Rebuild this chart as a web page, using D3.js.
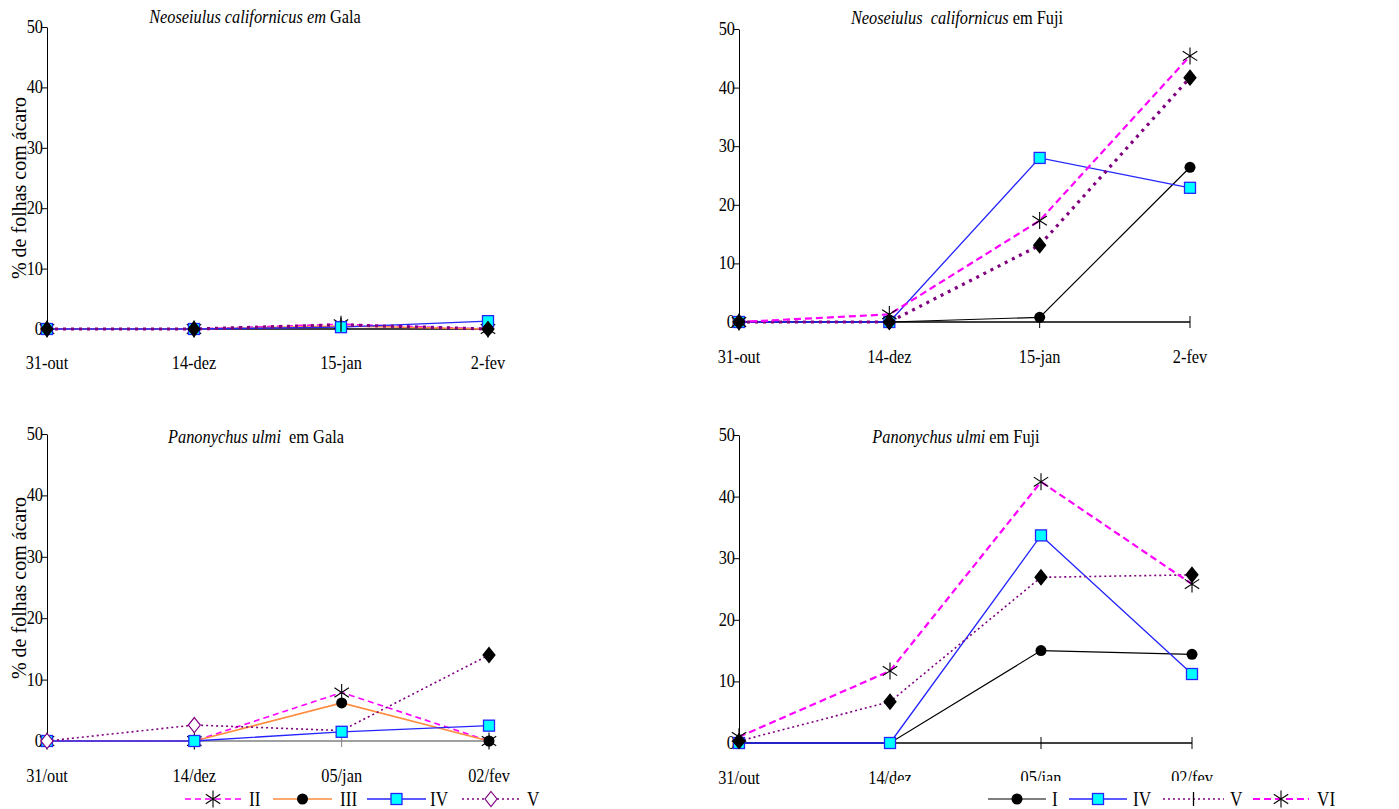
<!DOCTYPE html>
<html>
<head>
<meta charset="utf-8">
<script src="https://cdn.jsdelivr.net/npm/d3@7"></script>
<style>
  body { margin: 0; background: #fff; }
  svg text { font-family: "Liberation Serif", "Times New Roman", serif; fill: #000; }
</style>
</head>
<body>
<div id="chart"></div>
<script>
// categories
const datesNeo = ["31-out", "14-dez", "15-jan", "2-fev"];
const datesPan = ["31/out", "14/dez", "05/jan", "02/fev"];
const yTicks = [0, 10, 20, 30, 40, 50];

// Neoseiulus californicus em Gala
const neoGalaII  = [0, 0, 0.8, 0];
const neoGalaIII = [0, 0, 0.5, 0];
const neoGalaIV  = [0, 0, 0.3, 1.3];
const neoGalaV   = [0, 0, 0.7, 0];

// Neoseiulus californicus em Fuji
const neoFujiI  = [0, 0, 0.8, 26.4];
const neoFujiIV = [0, 0, 28.0, 22.9];
const neoFujiV  = [0, 0, 13.1, 41.7];
const neoFujiVI = [0, 1.3, 17.3, 45.4];

// Panonychus ulmi em Gala
const panGalaII  = [0, 0, 7.9, 0];
const panGalaIII = [0, 0, 6.2, 0];
const panGalaIV  = [0, 0, 1.5, 2.5];
const panGalaV   = [0, 2.6, 1.7, 14.0];

// Panonychus ulmi em Fuji
const panFujiI  = [0, 0, 15.0, 14.4];
const panFujiIV = [0, 0, 33.7, 11.2];
const panFujiV  = [0.3, 6.7, 26.9, 27.3];
const panFujiVI = [1.0, 11.7, 42.4, 25.8];

// line styles
const sty = {
  I:   {stroke: "#000000", width: 1.2, dash: null},
  II:  {stroke: "#ff00ff", width: 1.6, dash: "6,4"},
  III: {stroke: "#ff8c40", width: 1.6, dash: null},
  IV:  {stroke: "#2424ff", width: 1.3, dash: null},
  Vt:  {stroke: "#800080", width: 1.6, dash: "2,3"},
  Vb:  {stroke: "#800080", width: 3.2, dash: "3,5"},
  VI:  {stroke: "#ff00ff", width: 2.2, dash: "7,4"}
};

const SX = 0.86;   // the original text is a bit condensed

const panels = [
  {left: 47, right: 488, top: 27, bottom: 329, cats: datesNeo, labY: 369,
   title: [["Neoseiulus californicus em ", true], ["Gala", false]], titleX: 255, titleY: 23,
   ylabelY: 188, axisColor: "#000", crossTicks: false,
   series: [
     {v: neoGalaII,  s: sty.II,  m: ["asterisk","asterisk","asterisk","asterisk"]},
     {v: neoGalaIII, s: sty.III, m: ["circle","circle","circle","circle"]},
     {v: neoGalaIV,  s: sty.IV,  m: ["square","square","square","square"]},
     {v: neoGalaV,   s: sty.Vb,  m: ["diamond","diamond","tick","diamond"]}
   ]},
  {left: 739, right: 1190, top: 29, bottom: 322, cats: datesNeo, labY: 363,
   title: [["Neoseiulus  californicus", true], [" em Fuji", false]], titleX: 957, titleY: 24,
   ylabelY: null, axisColor: "#000", crossTicks: true,
   series: [
     {v: neoFujiI,  s: sty.I,  m: ["circle","circle","circle","circle"]},
     {v: neoFujiIV, s: sty.IV, m: ["square","square","square","square"]},
     {v: neoFujiV,  s: sty.Vb, m: ["diamond","diamond","diamond","diamond"]},
     {v: neoFujiVI, s: sty.VI, m: ["asterisk","asterisk","asterisk","asterisk"]}
   ]},
  {left: 47, right: 489, top: 434, bottom: 741, cats: datesPan, labY: 782,
   title: [["Panonychus ulmi ", true], [" em Gala", false]], titleX: 256, titleY: 443,
   ylabelY: 588, axisColor: "#808080", crossTicks: true,
   series: [
     {v: panGalaII,  s: sty.II,  m: ["asterisk","asterisk","asterisk","asterisk"]},
     {v: panGalaIII, s: sty.III, m: ["circle","circle","circle","circle"]},
     {v: panGalaIV,  s: sty.IV,  m: ["square","square","square","square"]},
     {v: panGalaV,   s: sty.Vt,  m: ["diamondOpen","diamondOpen","none","diamond"]}
   ]},
  {left: 739, right: 1192, top: 435, bottom: 743, cats: datesPan, labY: 784,
   title: [["Panonychus ulmi", true], [" em Fuji", false]], titleX: 956, titleY: 443,
   ylabelY: null, axisColor: "#000", crossTicks: true,
   series: [
     {v: panFujiI,  s: sty.I,  m: ["circle","circle","circle","circle"]},
     {v: panFujiIV, s: sty.IV, m: ["square","square","square","square"]},
     {v: panFujiV,  s: sty.Vt, m: ["diamond","diamond","diamond","diamond"]},
     {v: panFujiVI, s: sty.VI, m: ["asterisk","asterisk","asterisk","asterisk"]}
   ]}
];

const svg = d3.select("#chart").append("svg")
  .attr("width", 1399).attr("height", 809);

// condensed text helper
function ctext(g, x, y, str, anchor, size) {
  return g.append("text")
    .attr("transform", `translate(${x},${y}) scale(${SX},1)`)
    .attr("text-anchor", anchor).attr("font-size", size).text(str);
}

// draw one marker at x,y
function marker(g, type, x, y) {
  if (type === "circle") {
    g.append("circle").attr("cx", x).attr("cy", y).attr("r", 5.5).attr("fill", "#000");
  } else if (type === "square") {
    g.append("rect").attr("x", x - 5.5).attr("y", y - 5.5).attr("width", 11).attr("height", 11)
      .attr("fill", "#00ffff").attr("stroke", "#2424ff").attr("stroke-width", 1.3);
  } else if (type === "diamond" || type === "diamondOpen") {
    g.append("path").attr("d", `M${x},${y - 7.5}L${x + 6},${y}L${x},${y + 7.5}L${x - 6},${y}Z`)
      .attr("fill", type === "diamond" ? "#000" : "#fff")
      .attr("stroke", type === "diamond" ? "#000" : "#800080").attr("stroke-width", 1.2);
  } else if (type === "asterisk") {
    const r = 8.5;
    g.append("path")
      .attr("d", `M${x},${y - r}V${y + r}M${x - r * 0.85},${y - r * 0.55}L${x + r * 0.85},${y + r * 0.55}M${x - r * 0.85},${y + r * 0.55}L${x + r * 0.85},${y - r * 0.55}`)
      .attr("stroke", "#000").attr("stroke-width", 1.1).attr("fill", "none");
  } else if (type === "tick") {
    g.append("line").attr("x1", x).attr("x2", x).attr("y1", y - 7).attr("y2", y + 7)
      .attr("stroke", "#000").attr("stroke-width", 1.3);
  }
}

panels.forEach(p => {
  const g = svg.append("g");

  const x = d3.scalePoint().domain(p.cats).range([p.left, p.right]);
  const y = d3.scaleLinear().domain([0, 50]).range([p.bottom, p.top]);

  // y axis
  const yAxis = d3.axisLeft(y).tickValues(yTicks).tickSize(5).tickSizeOuter(0).tickFormat("");
  const ya = g.append("g").attr("transform", `translate(${p.left},0)`).call(yAxis);
  ya.select(".domain").attr("stroke", "#000");
  ya.selectAll("line").attr("stroke", "#000");
  yTicks.forEach(t => ctext(g, p.left - 4, y(t) + 6, t, "end", 19));

  // x axis line at zero
  g.append("line").attr("x1", p.left).attr("x2", p.right)
    .attr("y1", y(0)).attr("y2", y(0)).attr("stroke", p.axisColor).attr("stroke-width", 1.3);
  if (p.crossTicks) {
    g.selectAll(".xt").data(p.cats.slice(1)).enter().append("line")
      .attr("x1", d => x(d)).attr("x2", d => x(d))
      .attr("y1", y(0) - 6).attr("y2", y(0) + 6)
      .attr("stroke", p.axisColor).attr("stroke-width", 1);
  }

  // category labels
  p.cats.forEach(c => ctext(g, x(c), p.labY, c, "middle", 19));

  // title
  const t = g.append("text")
    .attr("transform", `translate(${p.titleX},${p.titleY}) scale(${SX},1)`)
    .attr("text-anchor", "middle").attr("font-size", 19).style("white-space", "pre");
  p.title.forEach(([txt, it]) => {
    t.append("tspan").attr("font-style", it ? "italic" : "normal").text(txt);
  });

  // y label
  if (p.ylabelY) {
    g.append("text")
      .attr("transform", `translate(26,${p.ylabelY}) rotate(-90)`)
      .attr("text-anchor", "middle").attr("font-size", 20).text("% de folhas com ácaro");
  }

  // series lines
  const line = d3.line().x((d, i) => x(p.cats[i])).y(d => y(d));
  p.series.forEach(s => {
    g.append("path").datum(s.v).attr("d", line)
      .attr("fill", "none").attr("stroke", s.s.stroke)
      .attr("stroke-width", s.s.width)
      .attr("stroke-dasharray", s.s.dash);
  });
  // markers on top
  p.series.forEach(s => {
    s.v.forEach((d, i) => marker(g, s.m[i], x(p.cats[i]), y(d)));
  });
});

// legends
const legendLeft = [
  {name: "II",  s: sty.II,  m: "asterisk",    x0: 185, x1: 241, tx: 249},
  {name: "III", s: sty.III, m: "circle",      x0: 273, x1: 332, tx: 340},
  {name: "IV",  s: sty.IV,  m: "square",      x0: 367, x1: 426, tx: 430},
  {name: "V",   s: sty.Vt,  m: "diamondOpen", x0: 462, x1: 520, tx: 527}
];
const legendRight = [
  {name: "I",  s: sty.I,  m: "circle",   x0: 988,  x1: 1046, tx: 1052},
  {name: "IV", s: sty.IV, m: "square",   x0: 1069, x1: 1127, tx: 1133},
  {name: "V",  s: sty.Vt, m: "tick",     x0: 1163, x1: 1224, tx: 1230},
  {name: "VI", s: sty.VI, m: "asterisk", x0: 1253, x1: 1309, tx: 1317}
];

svg.append("rect").attr("x", 895).attr("y", 781).attr("width", 504).attr("height", 28).attr("fill", "#fff");

[legendLeft, legendRight].forEach(items => {
  const lg = svg.append("g");
  const ly = 799;
  items.forEach(it => {
    lg.append("line").attr("x1", it.x0).attr("x2", it.x1).attr("y1", ly).attr("y2", ly)
      .attr("stroke", it.s.stroke).attr("stroke-width", Math.min(it.s.width, 2))
      .attr("stroke-dasharray", it.s.dash);
    marker(lg, it.m, (it.x0 + it.x1) / 2, ly);
    ctext(lg, it.tx, ly + 7, it.name, "start", 20);
  });
});
</script>
</body>
</html>
